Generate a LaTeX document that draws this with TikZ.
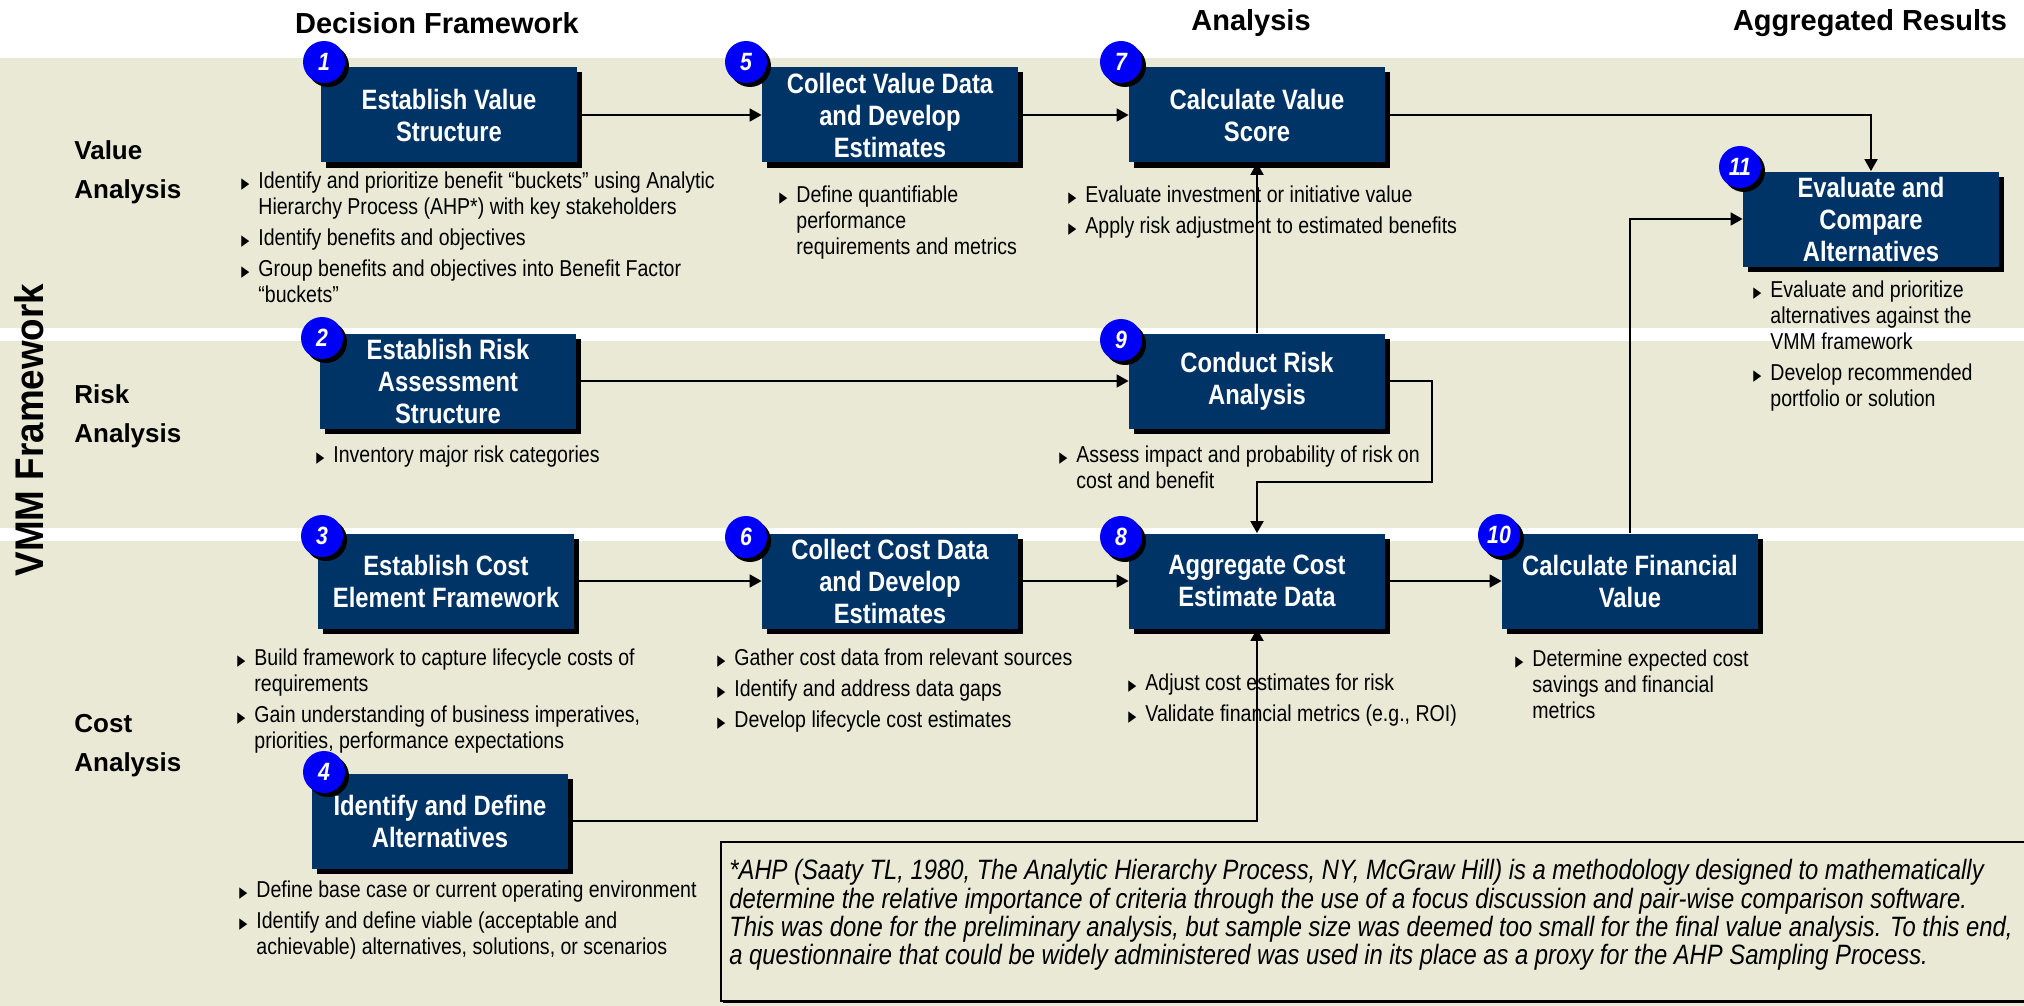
\documentclass[tikz,border=0pt]{standalone}
\usepackage{fontspec}
\setmainfont{Liberation Sans}
\newfontfamily\narrowfont[FakeStretch=0.85]{Liberation Sans}
\newfontfamily\vmmfont[FakeStretch=0.92]{Liberation Sans}
\newfontfamily\symfont{DejaVu Sans}
\usepackage{tikz}
\usetikzlibrary{arrows.meta,positioning,shadows}

\definecolor{vmmbeige}{RGB}{234,233,213}
\definecolor{vmmnavy}{RGB}{0,51,102}
\definecolor{vmmblue}{RGB}{0,0,250}

% bullet and hanging indent for the step notes
\newcommand{\tri}{\makebox[8.5pt][l]{\scalebox{0.7}[1]{\symfont\fontsize{7.5pt}{7.5pt}\selectfont ▶}}}
\newcommand{\ind}{\hspace*{8.5pt}}

\begin{document}
\begin{tikzpicture}[
    x=0.5pt, y=-0.5pt,
    block/.style={
        rectangle,
        fill=vmmnavy,
        text=white,
        align=center,
        minimum width=128pt,
        minimum height=47.5pt,
        inner sep=2pt,
        font=\narrowfont\bfseries\fontsize{14pt}{16pt}\selectfont,
        drop shadow={shadow xshift=2.5pt, shadow yshift=-2.5pt, fill=black, opacity=1}
    },
    num/.style={
        circle,
        fill=vmmblue,
        text=white,
        minimum size=21pt,
        inner sep=0pt,
        font=\narrowfont\bfseries\itshape\fontsize{12.5pt}{12.5pt}\selectfont,
        drop shadow={shadow xshift=2pt, shadow yshift=-2pt, fill=black, opacity=1}
    },
    bullets/.style={anchor=north west, inner sep=0pt, align=left,
        font=\narrowfont\fontsize{11.5pt}{13pt}\selectfont},
    head/.style={font=\bfseries\fontsize{14.5pt}{16pt}\selectfont},
    rowlabel/.style={anchor=west, inner sep=0pt, align=left,
        font=\bfseries\fontsize{13pt}{19.5pt}\selectfont},
    notebox/.style={draw=black, line width=0.8pt, fill=vmmbeige,
        drop shadow={shadow xshift=0.8pt, shadow yshift=-0.8pt, fill=black, opacity=1}},
    arrow/.style={-{Triangle[length=6pt,width=6.5pt]}, line width=0.9pt}
]
\useasboundingbox (0,0) rectangle (2024,1006);

% Background bands
\fill[vmmbeige] (0,58) rectangle (2024,328);
\fill[vmmbeige] (0,341) rectangle (2024,528);
\fill[vmmbeige] (0,541) rectangle (2024,1006);

% Column and row headings
\node[head] (hdec) at (437,23) {Decision Framework};
\node[head] (hana) at (1251,23) {Analysis};
\node[head] (hagg) at (1870,23) {Aggregated Results};

\node[rowlabel] (rval) at (74,172) {Value\\Analysis};
\node[rowlabel] (rrisk) at (74,416) {Risk\\Analysis};
\node[rowlabel] (rcost) at (74,746) {Cost\\Analysis};
\node[rotate=90, inner sep=0pt, font=\vmmfont\bfseries\fontsize{20pt}{20pt}\selectfont] (vmm) at (29,430) {VMM Framework};

% Steps
\node[block] (b1) at (449,115) {Establish Value\\Structure};
\node[block] (b5) at (890,115) {Collect Value Data\\and Develop\\Estimates};
\node[block] (b7) at (1257,115) {Calculate Value\\Score};
\node[block] (b11) at (1871,219) {Evaluate and\\Compare\\Alternatives};
\node[block] (b2) at (448,381) {Establish Risk\\Assessment\\Structure};
\node[block] (b9) at (1257,381) {Conduct Risk\\Analysis};
\node[block] (b3) at (446,581) {Establish Cost\\Element Framework};
\node[block] (b6) at (890,581) {Collect Cost Data\\and Develop\\Estimates};
\node[block] (b8) at (1257,581) {Aggregate Cost\\Estimate Data};
\node[block] (b10) at (1630,581) {Calculate Financial\\Value};
\node[block] (b4) at (440,821) {Identify and Define\\Alternatives};

% Step numbers
\node[num] (n1) at (324,62) {1};
\node[num] (n5) at (746,62) {5};
\node[num] (n7) at (1121,62) {7};
\node[num] (n11) at (1740,167) {11};
\node[num] (n2) at (322,338) {2};
\node[num] (n9) at (1121,340) {9};
\node[num] (n3) at (322,536) {3};
\node[num] (n6) at (746,537) {6};
\node[num] (n8) at (1121,537) {8};
\node[num] (n10) at (1499,535) {10};
\node[num] (n4) at (324,772) {4};

% Notes under the steps
\node[bullets] (l1) at (241,171) {\tri Identify and prioritize benefit “buckets” using Analytic\\\ind Hierarchy Process (AHP*) with key stakeholders\\[2.5pt]\tri Identify benefits and objectives\\[2.5pt]\tri Group benefits and objectives into Benefit Factor\\\ind “buckets”};
\node[bullets] (l5) at (779,185) {\tri Define quantifiable\\\ind performance\\\ind requirements and metrics};
\node[bullets] (l7) at (1068,185) {\tri Evaluate investment or initiative value\\[2.5pt]\tri Apply risk adjustment to estimated benefits};
\node[bullets] (l11) at (1753,280) {\tri Evaluate and prioritize\\\ind alternatives against the\\\ind VMM framework\\[2.5pt]\tri Develop recommended\\\ind portfolio or solution};
\node[bullets] (l2) at (316,445) {\tri Inventory major risk categories};
\node[bullets] (l9) at (1059,445) {\tri Assess impact and probability of risk on\\\ind cost and benefit};
\node[bullets] (l3) at (237,648) {\tri Build framework to capture lifecycle costs of\\\ind requirements\\[2.5pt]\tri Gain understanding of business imperatives,\\\ind priorities, performance expectations};
\node[bullets] (l6) at (717,648) {\tri Gather cost data from relevant sources\\[2.5pt]\tri Identify and address data gaps\\[2.5pt]\tri Develop lifecycle cost estimates};
\node[bullets] (l8) at (1128,673) {\tri Adjust cost estimates for risk\\[2.5pt]\tri Validate financial metrics (e.g., ROI)};
\node[bullets] (l10) at (1515,649) {\tri Determine expected cost\\\ind savings and financial\\\ind metrics};
\node[bullets] (l4) at (239,880) {\tri Define base case or current operating environment\\[2.5pt]\tri Identify and define viable (acceptable and\\\ind achievable) alternatives, solutions, or scenarios};

% AHP footnote
\draw[notebox] (721,842) rectangle (2040,1001);
\node[anchor=north west, inner sep=0pt, align=left,
      font=\narrowfont\itshape\fontsize{14pt}{14.2pt}\selectfont] (ahp) at (729,859)
  {*AHP (Saaty TL, 1980, The Analytic Hierarchy Process, NY, McGraw Hill) is a methodology designed to mathematically\\
   determine the relative importance of criteria through the use of a focus discussion and pair-wise comparison software.\\
   This was done for the preliminary analysis, but sample size was deemed too small for the final value analysis. To this end,\\
   a questionnaire that could be widely administered was used in its place as a proxy for the AHP Sampling Process.};

% Value flow
\draw[arrow] (b1) -- (b5);
\draw[arrow] (b5) -- (b7);
\draw[arrow] (b7.east) -| (b11.north);
\draw[arrow] (b9) -- (b7);

% Risk flow
\coordinate (r9) at (1432,482);
\draw[arrow] (b2) -- (b9);
\draw[arrow] (b9.east) -| (r9) -| (b8.north);

% Cost flow
\draw[arrow] (b3) -- (b6);
\draw[arrow] (b6) -- (b8);
\draw[arrow] (b8) -- (b10);
\draw[arrow] (b10.north) |- (b11.west);
\draw[arrow] (b4.east) -| (b8.south);

\end{tikzpicture}
\end{document}
